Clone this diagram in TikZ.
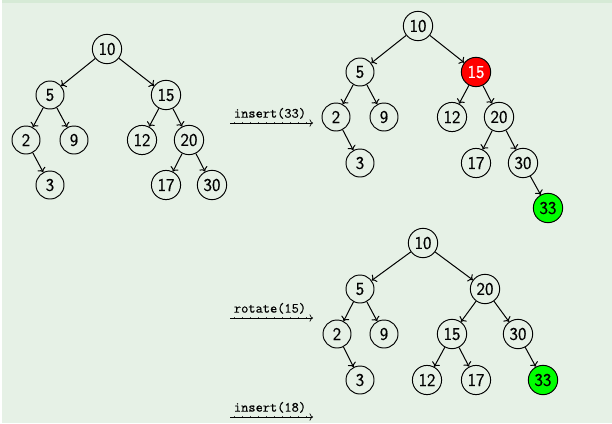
\documentclass[tikz,border=0pt]{standalone}
\usepackage{fontspec}
\newfontfamily\ndfont{Latin Modern Sans}[FakeBold=0.4]
\newfontfamily\opfont{Latin Modern Mono}[FakeBold=0.4]
\usetikzlibrary{arrows.meta}
\definecolor{bgg}{RGB}{230,241,230}
\definecolor{topg}{RGB}{214,234,214}
\begin{document}
\begin{tikzpicture}[x=1pt,y=-1pt,
  nd/.style={circle,draw,line width=0.95pt,inner sep=3pt,minimum size=28pt,font=\ndfont\fontsize{18}{20}\selectfont},
  red15/.style={nd,fill=red,text=white},
  grn/.style={nd,fill=green},
  edge/.style={-{To[scale=1.1]},line width=1pt},
  op/.style={font=\opfont\fontsize{14}{16}\selectfont,inner sep=1pt},
  oparrow/.style={-{To[scale=1.1]},line width=0.7pt},
  opdots/.style={line width=1.7pt,black!75,dash pattern=on 0.8pt off 7.2pt}]
\useasboundingbox (0,0) rectangle (612,423);
\fill[bgg] (0,0) rectangle (612,423);
\fill[topg] (0,0) rectangle (612,3);
\fill[white] (0,0) rectangle (1.5,423);
% left tree
\node[nd] (L10) at (107,49) {10};
\node[nd] (L5) at (50,95) {5};
\node[nd] (L15) at (166,95) {15};
\node[nd] (L2) at (26,140) {2};
\node[nd] (L9) at (74,140) {9};
\node[nd] (L12) at (142,140) {12};
\node[nd] (L20) at (189,140) {20};
\node[nd] (L3) at (50,185) {3};
\node[nd] (L17) at (166,185) {17};
\node[nd] (L30) at (212,185) {30};
\draw[edge] (L10) -- (L5);
\draw[edge] (L10) -- (L15);
\draw[edge] (L5) -- (L2);
\draw[edge] (L5) -- (L9);
\draw[edge] (L2) -- (L3);
\draw[edge] (L15) -- (L12);
\draw[edge] (L15) -- (L20);
\draw[edge] (L20) -- (L17);
\draw[edge] (L20) -- (L30);
% top-right tree
\node[nd] (A10) at (418,26) {10};
\node[nd] (A5) at (360,72) {5};
\node[red15] (A15) at (476,72) {15};
\node[nd] (A2) at (336,117) {2};
\node[nd] (A9) at (384,117) {9};
\node[nd] (A12) at (452,117) {12};
\node[nd] (A20) at (499,117) {20};
\node[nd] (A3) at (360,163) {3};
\node[nd] (A17) at (476,163) {17};
\node[nd] (A30) at (523,163) {30};
\node[grn] (A33) at (548,208) {33};
\draw[edge] (A10) -- (A5);
\draw[edge] (A10) -- (A15);
\draw[edge] (A5) -- (A2);
\draw[edge] (A5) -- (A9);
\draw[edge] (A2) -- (A3);
\draw[edge] (A15) -- (A12);
\draw[edge] (A15) -- (A20);
\draw[edge] (A20) -- (A17);
\draw[edge] (A20) -- (A30);
\draw[edge] (A30) -- (A33);
% bottom tree
\node[nd] (B10) at (423,243) {10};
\node[nd] (B5) at (360,289) {5};
\node[nd] (B20) at (485,289) {20};
\node[nd] (B2) at (337,334) {2};
\node[nd] (B9) at (384,334) {9};
\node[nd] (B15) at (452,334) {15};
\node[nd] (B30) at (518,334) {30};
\node[nd] (B3) at (360,380) {3};
\node[nd] (B12) at (427,380) {12};
\node[nd] (B17) at (476,380) {17};
\node[grn] (B33) at (543,380) {33};
\draw[edge] (B10) -- (B5);
\draw[edge] (B10) -- (B20);
\draw[edge] (B5) -- (B2);
\draw[edge] (B5) -- (B9);
\draw[edge] (B2) -- (B3);
\draw[edge] (B20) -- (B15);
\draw[edge] (B20) -- (B30);
\draw[edge] (B15) -- (B12);
\draw[edge] (B15) -- (B17);
\draw[edge] (B30) -- (B33);
% operation arrows
\coordinate (o1s) at (230,123); \coordinate (o1e) at (313,123);
\coordinate (o2s) at (230,318); \coordinate (o2e) at (313,318);
\coordinate (o3s) at (230,417); \coordinate (o3e) at (313,417);
\foreach \s/\e in {o1s/o1e,o2s/o2e,o3s/o3e}{
  \draw[opdots] ([xshift=4pt]\s) -- ([xshift=-6pt]\e);
  \draw[oparrow] (\s) -- (\e);
}
\node[op,anchor=south] (t1) at (270,120) {insert(33)};
\node[op,anchor=south] (t2) at (270,315) {rotate(15)};
\node[op,anchor=south] (t3) at (270,414) {insert(18)};
\end{tikzpicture}
\end{document}
